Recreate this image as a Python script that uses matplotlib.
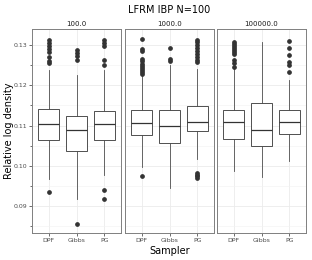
import matplotlib
matplotlib.use("Agg")
import matplotlib.pyplot as plt
from matplotlib.ticker import MultipleLocator

# facet labels and samplers
facets = ["100.0", "1000.0", "100000.0"]
samplers = ["DPF", "Gibbs", "PG"]

# box stats: (whislo, q1, med, q3, whishi)
stats_100 = [(0.0968, 0.1065, 0.1105, 0.1140, 0.1238),
             (0.0918, 0.1038, 0.1088, 0.1125, 0.1225),
             (0.0978, 0.1065, 0.1103, 0.1137, 0.1238)]
stats_1000 = [(0.0996, 0.1077, 0.1106, 0.1138, 0.1225),
              (0.0946, 0.1057, 0.1098, 0.1138, 0.1250),
              (0.1018, 0.1087, 0.1108, 0.1148, 0.1240)]
stats_100000 = [(0.0986, 0.1067, 0.1108, 0.1138, 0.1243),
                (0.0973, 0.1050, 0.1090, 0.1157, 0.1308),
                (0.1013, 0.1078, 0.1108, 0.1138, 0.1214)]

# outliers
fliers_100 = [[0.0935, 0.1313, 0.1305, 0.1298, 0.1290, 0.1282, 0.1270, 0.1260, 0.1255],
              [0.0855, 0.1287, 0.1280, 0.1272, 0.1263],
              [0.0940, 0.0918, 0.1312, 0.1305, 0.1297, 0.1262, 0.1250]]
fliers_1000 = [[0.0975, 0.1315, 0.1290, 0.1285, 0.1265, 0.1260, 0.1253, 0.1248,
                0.1243, 0.1238, 0.1233, 0.1228],
               [0.1293, 0.1265, 0.1260],
               [0.0982, 0.0978, 0.0974, 0.0970, 0.1313, 0.1307, 0.1300, 0.1293,
                0.1285, 0.1278, 0.1270, 0.1263, 0.1258]]
fliers_100000 = [[0.1308, 0.1303, 0.1298, 0.1293, 0.1288, 0.1283, 0.1278,
                  0.1263, 0.1255, 0.1245],
                 [],
                 [0.1311, 0.1292, 0.1275, 0.1258, 0.1250, 0.1233]]

all_stats = [stats_100, stats_1000, stats_100000]
all_fliers = [fliers_100, fliers_1000, fliers_100000]

fig = plt.figure(figsize=(3.12, 2.6), dpi=100)
lefts = [32/312, 125/312, 217/312]
w = 89/312
b = 1 - 233/260
h = (233 - 29)/260

for i in range(3):
    ax = fig.add_axes([lefts[i], b, w, h])
    bx = []
    for j in range(3):
        lo, q1, med, q3, hi = all_stats[i][j]
        bx.append(dict(whislo=lo, q1=q1, med=med, q3=q3, whishi=hi,
                       fliers=all_fliers[i][j], label=samplers[j]))
    ax.bxp(bx, positions=[1, 2, 3], widths=0.75, patch_artist=True,
           showcaps=False,
           boxprops=dict(facecolor="white", edgecolor="#333333", linewidth=0.6),
           medianprops=dict(color="#333333", linewidth=0.9),
           whiskerprops=dict(color="#4d4d4d", linewidth=0.6),
           flierprops=dict(marker="o", markerfacecolor="#333333",
                           markeredgecolor="#333333", markersize=2.4))
    ax.set_xlim(0.4, 3.6)
    ax.set_ylim(0.0833, 0.134)
    ax.yaxis.set_major_locator(MultipleLocator(0.01))
    ax.yaxis.set_minor_locator(MultipleLocator(0.005))
    ax.grid(True, which="major", color="#ebebeb", linewidth=0.6)
    ax.grid(True, which="minor", axis="y", color="#f2f2f2", linewidth=0.4)
    ax.set_axisbelow(True)
    for s in ax.spines.values():
        s.set_color("#7f7f7f")
        s.set_linewidth(0.7)
    ax.tick_params(labelsize=4.5, length=2, width=0.5, color="#333333",
                   labelcolor="#4d4d4d", pad=1.5)
    ax.tick_params(which="minor", length=1.5, width=0.5, color="#333333")
    ax.set_xticks([1, 2, 3])
    ax.set_xticklabels(samplers)
    if i == 0:
        ax.set_yticks([0.09, 0.10, 0.11, 0.12, 0.13])
        ax.set_yticklabels(["0.09", "0.10", "0.11", "0.12", "0.13"])
        ax.set_ylabel("Relative log density", fontsize=7)
        ax.yaxis.set_label_coords(-0.2, 0.5)
    else:
        ax.tick_params(axis="y", which="both", length=0, labelleft=False)
    if i == 1:
        ax.set_xlabel("Sampler", fontsize=7, labelpad=2)
    ax.set_title(facets[i], fontsize=5, color="#1a1a1a", pad=2.5)

fig.text(169/312, 1 - 10/260, "LFRM IBP N=100", ha="center", va="center", fontsize=7)

fig.savefig("out.png", dpi=100)
